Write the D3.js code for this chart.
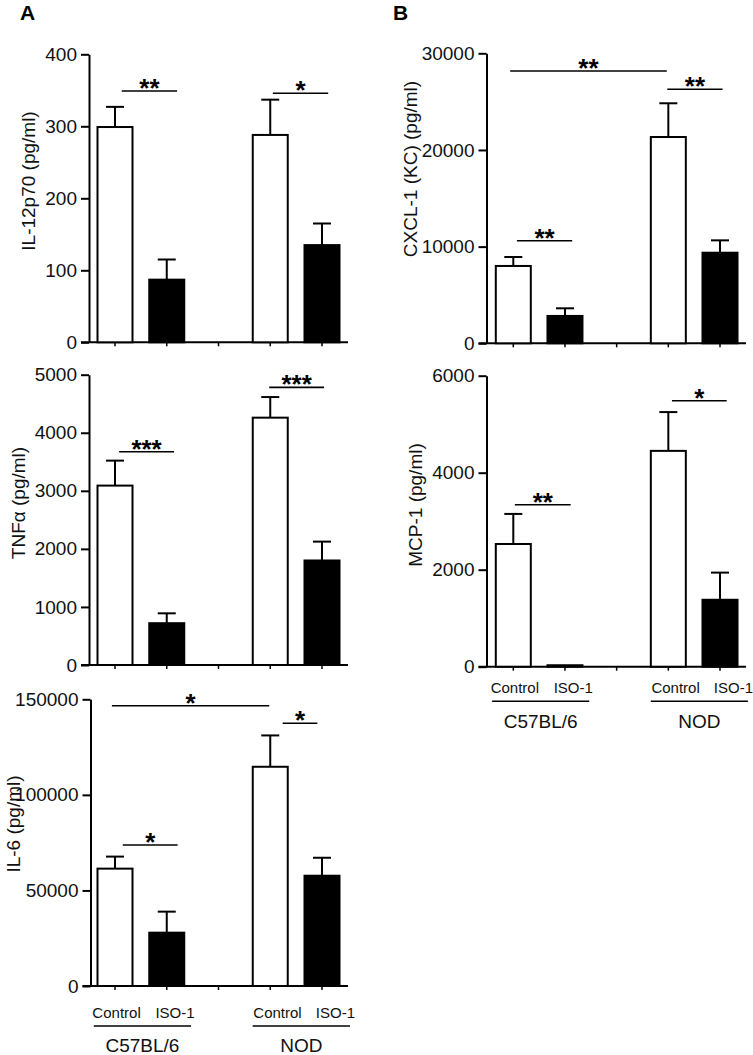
<!DOCTYPE html>
<html><head><meta charset="utf-8">
<script src="https://cdn.jsdelivr.net/npm/d3@7"></script>
<style>
html,body{margin:0;padding:0;background:#fff;}
svg{display:block;font-family:"Liberation Sans",Arial,sans-serif;}
</style></head>
<body>
<svg id="chart" width="753" height="1055"></svg>
<script>
// ---------- data ----------
const slots = ["C57-Control","C57-ISO-1","gap","NOD-Control","NOD-ISO-1"];
const barSlots = [0, 1, 3, 4];
const categories = ["Control", "ISO-1", "Control", "ISO-1"];
const groups = ["C57BL/6", "NOD"];
const filled = [false, true, false, true];

const il12 = [299, 87, 288, 135];
const il12Err = [28, 28, 49, 30];
const tnf = [3090, 720, 4260, 1800];
const tnfErr = [430, 170, 355, 325];
const il6 = [61400, 27900, 114700, 57700];
const il6Err = [6300, 11000, 16400, 9400];
const cxcl1 = [8000, 2830, 21340, 9370];
const cxcl1Err = [930, 790, 3490, 1280];
const mcp1 = [2530, 30, 4450, 1380];
const mcp1Err = [620, 0, 800, 560];

const il12Ticks = [0, 100, 200, 300, 400];
const tnfTicks = [0, 1000, 2000, 3000, 4000, 5000];
const il6Ticks = [0, 50000, 100000, 150000];
const cxcl1Ticks = [0, 10000, 20000, 30000];
const mcp1Ticks = [0, 2000, 4000, 6000];

// significance brackets: from/to in slot units, level in data units
const il12Sig = [{from:0.13,to:1.2,level:349,label:"**"},{from:3.05,to:4.12,level:346,label:"*"}];
const tnfSig = [{from:0.08,to:1.14,level:3673,label:"***"},{from:2.98,to:4.04,level:4782,label:"***"}];
const il6Sig = [{from:-0.06,to:2.98,level:146650,label:"*"},{from:3.24,to:3.91,level:137450,label:"*"},{from:0.15,to:1.21,level:73770,label:"*"}];
const cxcl1Sig = [{from:-0.06,to:2.97,level:28170,label:"**"},{from:2.98,to:4.05,level:26276,label:"**"},{from:0.07,to:1.14,level:10614,label:"**"}];
const mcp1Sig = [{from:0.03,to:1.11,level:3340,label:"**"},{from:3.07,to:4.13,level:5485,label:"*"}];

// ---------- layout ----------
const svg = d3.select("#chart");
const ink = "#000";
const txt = "#111";

const panels = [
  {col:"A", axisX:89, top:54.3, bottom:342.3, vals:il12, errs:il12Err, ticks:il12Ticks, sig:il12Sig, title:"IL-12p70 (pg/ml)", tx:28, ty:181, xl:false},
  {col:"A", axisX:89, top:374.7, bottom:665, vals:tnf, errs:tnfErr, ticks:tnfTicks, sig:tnfSig, title:"TNFα (pg/ml)", tx:18, ty:503, xl:false},
  {col:"A", axisX:90.5, top:699.3, bottom:986, vals:il6, errs:il6Err, ticks:il6Ticks, sig:il6Sig, title:"IL-6 (pg/ml)", tx:13, ty:824, xl:true, lo:{lab:26, line:40, grp:59}},
  {col:"B", axisX:486.5, top:53.3, bottom:343.3, vals:cxcl1, errs:cxcl1Err, ticks:cxcl1Ticks, sig:cxcl1Sig, title:"CXCL-1 (KC) (pg/ml)", tx:410, ty:169, xl:false},
  {col:"B", axisX:486.5, top:375.7, bottom:666.7, vals:mcp1, errs:mcp1Err, ticks:mcp1Ticks, sig:mcp1Sig, title:"MCP-1 (pg/ml)", tx:415, ty:505, xl:true, lo:{lab:21, line:34.5, grp:54.5}}
];
const colSlot = {A:[115, 322], B:[513.3, 720]};

svg.append("text").attr("x", 20).attr("y", 19.5).attr("font-size", 21).attr("font-weight", "bold").attr("fill", ink).text("A");
svg.append("text").attr("x", 393).attr("y", 19.5).attr("font-size", 21).attr("font-weight", "bold").attr("fill", ink).text("B");

panels.forEach(p => {
  const xr = colSlot[p.col];
  const x = d3.scaleLinear().domain([0, slots.length - 1]).range(xr);
  const y = d3.scaleLinear().domain([0, d3.max(p.ticks)]).range([p.bottom, p.top]);
  const bw = 35;
  const g = svg.append("g");

  // x axis line and ticks
  g.append("line").attr("x1", p.axisX - 8).attr("x2", x(4) + 26).attr("y1", y(0)).attr("y2", y(0))
    .attr("stroke", ink).attr("stroke-width", 2);
  g.selectAll(".xt").data(slots).join("line")
    .attr("x1", (d, i) => x(i)).attr("x2", (d, i) => x(i))
    .attr("y1", y(0)).attr("y2", y(0) + 4).attr("stroke", ink).attr("stroke-width", 1.5);

  // bars
  g.selectAll(".bar").data(p.vals).join("rect")
    .attr("x", (d, i) => x(barSlots[i]) - bw / 2)
    .attr("y", d => y(d))
    .attr("width", bw)
    .attr("height", d => y(0) - y(d))
    .attr("fill", (d, i) => filled[i] ? "#000" : "#fff")
    .attr("stroke", "#000").attr("stroke-width", 2);

  // error bars (upper only)
  p.vals.forEach((v, i) => {
    if (!p.errs[i]) return;
    const cx = x(barSlots[i]);
    g.append("line").attr("x1", cx).attr("x2", cx).attr("y1", y(v)).attr("y2", y(v + p.errs[i]))
      .attr("stroke", "#000").attr("stroke-width", 2);
    g.append("line").attr("x1", cx - 9).attr("x2", cx + 9).attr("y1", y(v + p.errs[i])).attr("y2", y(v + p.errs[i]))
      .attr("stroke", "#000").attr("stroke-width", 2);
  });

  // y axis
  const ax = g.append("g").attr("transform", `translate(${p.axisX},0)`)
    .call(d3.axisLeft(y).tickValues(p.ticks).tickSize(8).tickSizeOuter(0).tickPadding(4).tickFormat(d3.format("d")));
  ax.select(".domain").attr("stroke", ink).attr("stroke-width", 2);
  ax.selectAll(".tick line").attr("stroke", ink).attr("stroke-width", 2);
  ax.selectAll(".tick text").attr("font-size", 19).attr("fill", txt).attr("font-family", "Liberation Sans, Arial, sans-serif");

  // y title
  g.append("text").attr("transform", `translate(${p.tx},${p.ty}) rotate(-90)`)
    .attr("text-anchor", "middle").attr("dominant-baseline", "central")
    .attr("font-size", 19).attr("fill", txt).text(p.title);

  // significance
  p.sig.forEach(s => {
    g.append("line").attr("x1", x(s.from)).attr("x2", x(s.to)).attr("y1", y(s.level)).attr("y2", y(s.level))
      .attr("stroke", ink).attr("stroke-width", 1.6);
    g.append("text").attr("x", (x(s.from) + x(s.to)) / 2).attr("y", y(s.level) + 6)
      .attr("text-anchor", "middle").attr("font-size", 26).attr("font-weight", "bold").attr("fill", ink).text(s.label);
  });

  // x labels
  if (p.xl) {
    const labPos = [0.03, 1.16, 3.14, 4.26];
    g.selectAll(".xl").data(categories).join("text")
      .attr("x", (d, i) => x(labPos[i])).attr("y", y(0) + p.lo.lab)
      .attr("text-anchor", "middle").attr("dominant-baseline", "central")
      .attr("font-size", 15).attr("fill", txt).text(d => d);
    const grpSpan = [[-0.41, 1.47], [2.66, 4.54]];
    grpSpan.forEach((sp, gi) => {
      g.append("line").attr("x1", x(sp[0])).attr("x2", x(sp[1])).attr("y1", y(0) + p.lo.line).attr("y2", y(0) + p.lo.line)
        .attr("stroke", ink).attr("stroke-width", 1.6);
      g.append("text").attr("x", x((sp[0] + sp[1]) / 2)).attr("y", y(0) + p.lo.grp)
        .attr("text-anchor", "middle").attr("dominant-baseline", "central")
        .attr("font-size", 19).attr("fill", txt).text(groups[gi]);
    });
  }
});
</script>
</body></html>
